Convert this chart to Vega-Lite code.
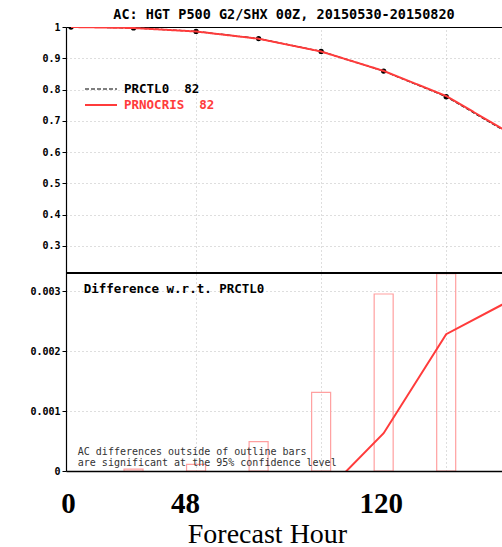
{
  "$schema": "https://vega.github.io/schema/vega-lite/v6.json",
  "autosize": {"type": "none"},
  "width": 436,
  "height": 444,
  "padding": {"left": 66, "top": 27, "right": 0, "bottom": 76},
  "background": "white",
  "title": {
    "text": "AC: HGT P500 G2/SHX 00Z, 20150530-20150820",
    "font": "DejaVu Sans Mono",
    "fontSize": 13.5,
    "fontWeight": "bold",
    "color": "black",
    "anchor": "middle",
    "baseline": "alphabetic",
    "offset": -10
  },
  "datasets": {
    "ac": [
      {"hour": 0, "series": "PRCTL0", "value": 1.0},
      {"hour": 24, "series": "PRCTL0", "value": 0.997},
      {"hour": 48, "series": "PRCTL0", "value": 0.986},
      {"hour": 72, "series": "PRCTL0", "value": 0.963},
      {"hour": 96, "series": "PRCTL0", "value": 0.922},
      {"hour": 120, "series": "PRCTL0", "value": 0.859},
      {"hour": 144, "series": "PRCTL0", "value": 0.777},
      {"hour": 168, "series": "PRCTL0", "value": 0.66},
      {"hour": 0, "series": "PRNOCRIS", "value": 1.0},
      {"hour": 24, "series": "PRNOCRIS", "value": 0.9968},
      {"hour": 48, "series": "PRNOCRIS", "value": 0.9857},
      {"hour": 72, "series": "PRNOCRIS", "value": 0.9625},
      {"hour": 96, "series": "PRNOCRIS", "value": 0.9216},
      {"hour": 120, "series": "PRNOCRIS", "value": 0.8596},
      {"hour": 144, "series": "PRNOCRIS", "value": 0.7793},
      {"hour": 168, "series": "PRNOCRIS", "value": 0.6628}
    ],
    "diff": [
      {"hour": 0, "diff": -0.0001, "bound": null},
      {"hour": 24, "diff": -0.0002, "bound": 0.00003},
      {"hour": 48, "diff": -0.0003, "bound": 0.00011},
      {"hour": 72, "diff": -0.0005, "bound": 0.00049},
      {"hour": 96, "diff": -0.00043, "bound": 0.00131},
      {"hour": 120, "diff": 0.00063, "bound": 0.00295},
      {"hour": 144, "diff": 0.00228, "bound": 0.00329},
      {"hour": 168, "diff": 0.00283, "bound": null}
    ],
    "one": [{"id": 1}]
  },
  "layer": [
    {
      "data": {"name": "ac"},
      "encoding": {
        "x": {
          "field": "hour",
          "type": "quantitative",
          "scale": {"domain": [0, 163.5], "nice": false, "zero": false},
          "axis": {
            "orient": "top",
            "values": [48, 96, 144],
            "labels": false,
            "ticks": false,
            "title": null,
            "grid": true,
            "gridColor": "#bdbdbd",
            "gridDash": [1, 3],
            "gridWidth": 1,
            "domain": true,
            "domainColor": "black",
            "domainWidth": 1.2
          }
        },
        "y": {
          "field": "value",
          "type": "quantitative",
          "scale": {"domain": [-0.4195, 1], "nice": false, "zero": false},
          "axis": {
            "orient": "left",
            "values": [0.3, 0.4, 0.5, 0.6, 0.7, 0.8, 0.9, 1],
            "format": "~g",
            "title": null,
            "grid": true,
            "gridColor": "#bdbdbd",
            "gridDash": [1, 3],
            "domain": true,
            "domainColor": "black",
            "domainWidth": 1.2,
            "ticks": true,
            "tickSize": 4,
            "tickColor": "black",
            "labelFont": "DejaVu Sans Mono",
            "labelFontWeight": "bold",
            "labelFontSize": 10,
            "labelColor": "black",
            "labelPadding": 2
          }
        }
      },
      "layer": [
        {
          "transform": [{"filter": "datum.series === 'PRCTL0'"}],
          "mark": {"type": "point", "filled": true, "color": "black", "size": 28, "opacity": 1, "clip": true}
        },
        {
          "mark": {"type": "line", "clip": true},
          "encoding": {
            "color": {
              "field": "series",
              "type": "nominal",
              "scale": {"domain": ["PRCTL0", "PRNOCRIS"], "range": ["black", "#ff3b3b"]},
              "legend": {
                "orient": "none",
                "legendX": 26,
                "legendY": 53,
                "title": null,
                "symbolType": "M-2,0H2",
                "symbolSize": 256,
                "symbolStrokeWidth": 1.6,
                "labelFont": "DejaVu Sans Mono",
                "labelFontWeight": "bold",
                "labelFontSize": 12.5,
                "labelOffset": 14,
                "rowPadding": 0,
                "labelExpr": "datum.label + '\u00a0\u00a082'",
                "encode": {
                  "labels": {"update": {"fill": {"signal": "datum.value === 'PRNOCRIS' ? '#ff3b3b' : 'black'"}}}
                }
              }
            },
            "strokeDash": {
              "field": "series",
              "type": "nominal",
              "scale": {"domain": ["PRCTL0", "PRNOCRIS"], "range": [[4, 2], [1, 0]]}
            },
            "strokeWidth": {
              "field": "series",
              "type": "nominal",
              "scale": {"domain": ["PRCTL0", "PRNOCRIS"], "range": [1.2, 2]},
              "legend": null
            }
          }
        }
      ]
    },
    {
      "layer": [
        {
          "data": {"name": "diff"},
          "mark": {"type": "bar", "orient": "vertical", "size": 19, "fill": "transparent", "stroke": "#ffa0a0", "strokeWidth": 1.2, "clip": true},
          "encoding": {
            "x": {
              "field": "hour",
              "type": "quantitative",
              "scale": {"domain": [0, 163.5], "nice": false, "zero": false},
              "axis": {
                "orient": "bottom",
                "values": [0, 48, 120],
                "title": "Forecast Hour",
                "titleFont": "Liberation Serif",
                "titleFontSize": 28,
                "titleFontWeight": "normal",
                "titleColor": "black",
                "titleX": 201,
                "titleY": 71,
                "titleAlign": "center",
                "titleBaseline": "alphabetic",
                "labelFont": "Liberation Serif",
                "labelFontSize": 29,
                "labelFontWeight": "bold",
                "labelColor": "black",
                "labelBaseline": "alphabetic",
                "labelPadding": 41,
                "labelFlush": false,
                "labelOverlap": false,
                "labelOffset": {"condition": {"test": "datum.value === 48", "value": -11}, "value": -3},
                "ticks": false,
                "tickSize": 0,
                "grid": false,
                "domain": true,
                "domainColor": "black",
                "domainWidth": 1.5,
                "zindex": 1
              }
            },
            "y": {
              "field": "bound",
              "type": "quantitative",
              "scale": {"domain": [0, 0.0074], "nice": false, "zero": true},
              "axis": {
                "orient": "left",
                "values": [0, 0.001, 0.002, 0.003],
                "format": "~g",
                "title": null,
                "grid": true,
                "gridColor": "#bdbdbd",
                "gridDash": [1, 3],
                "domain": false,
                "ticks": true,
                "tickSize": 4,
                "tickColor": "black",
                "labelFont": "DejaVu Sans Mono",
                "labelFontWeight": "bold",
                "labelFontSize": 10,
                "labelColor": "black",
                "labelPadding": 2
              }
            }
          }
        },
        {
          "data": {"name": "diff"},
          "mark": {"type": "line", "color": "#ff3b3b", "strokeWidth": 2, "clip": true},
          "encoding": {
            "x": {"field": "hour", "type": "quantitative"},
            "y": {"field": "diff", "type": "quantitative"}
          }
        },
        {
          "data": {"name": "one"},
          "mark": {"type": "rule", "color": "black", "strokeWidth": 2},
          "encoding": {"y": {"datum": 0.0033, "type": "quantitative"}}
        },
        {
          "data": {"name": "one"},
          "mark": {"type": "text", "text": "Difference w.r.t. PRCTL0", "font": "DejaVu Sans Mono", "fontWeight": "bold", "fontSize": 12.5, "align": "left", "baseline": "alphabetic", "color": "black"},
          "encoding": {
            "x": {"datum": 4.9, "type": "quantitative"},
            "y": {"datum": 0.00297, "type": "quantitative"}
          }
        },
        {
          "data": {"name": "one"},
          "mark": {"type": "text", "text": ["AC differences outside of outline bars", "are significant at the 95% confidence level"], "font": "DejaVu Sans Mono", "fontSize": 10, "lineHeight": 10.5, "align": "left", "baseline": "alphabetic", "color": "#333333"},
          "encoding": {
            "x": {"datum": 2.6, "type": "quantitative"},
            "y": {"datum": 0.00026, "type": "quantitative"}
          }
        }
      ]
    }
  ],
  "resolve": {"scale": {"y": "independent"}, "axis": {"y": "independent", "x": "independent"}},
  "config": {"view": {"stroke": null}}
}
